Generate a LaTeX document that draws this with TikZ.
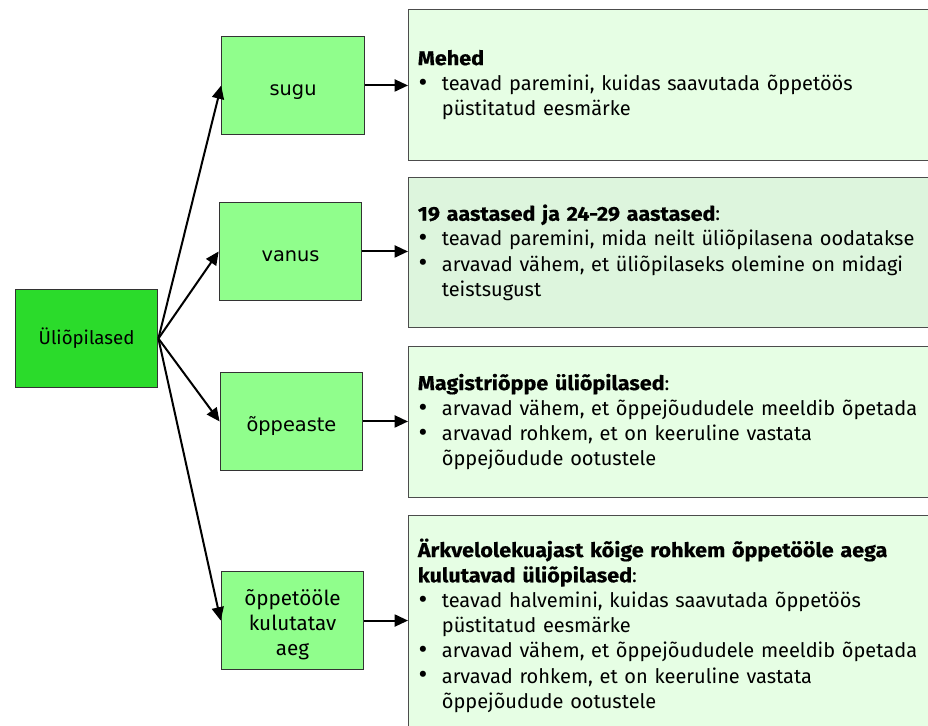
\documentclass[tikz,border=0pt]{standalone}
\usepackage{fontspec}
\usepackage{graphicx}
\setmainfont{Fira Sans}[BoldFeatures={FakeStretch=1.08,FakeBold=0.5}]
\newfontfamily\dejavu{DejaVu Sans}
\usetikzlibrary{arrows.meta}
\definecolor{rootgreen}{HTML}{2BDB2B}
\definecolor{midgreen}{HTML}{90FE8C}
\definecolor{paleA}{HTML}{E6FEE4}
\definecolor{paleB}{HTML}{DDF5DD}
\newcommand{\itm}{\hspace*{0.5pt}\makebox[17.5pt][l]{\raisebox{-0.6pt}{\scalebox{1.35}{\textbullet}}}}
\newcommand{\cnt}{\hspace*{18pt}}
% middle box text sits a little low in its box
\newcommand{\sunk}[1]{\raisebox{-4pt}[\height][\depth]{\begin{tabular}{@{}c@{}}#1\end{tabular}}}
\begin{document}
\begin{tikzpicture}[x=1pt, y=-1pt, thick,
  root/.style = {draw=black!80, fill=rootgreen, minimum width=107pt, minimum height=74pt, font=\fontsize{14}{17}\selectfont},
  mid/.style = {draw=black!80, fill=midgreen, minimum width=107pt, minimum height=73pt, font=\dejavu\fontsize{14.5}{18}\selectfont},
  info/.style = {draw=black!70, fill=paleA, anchor=north west, minimum width=400pt, text width=386pt, align=left, inner xsep=6.5pt, inner ysep=6pt, font=\fontsize{15}{18.9}\selectfont},
  arr/.style = {line width=1.5pt, -{Triangle[length=10pt, width=9pt]}}]
\useasboundingbox (0,0) rectangle (696,543.75);
\node[root] (students) at (64.9,253.9) {Üliõpilased};
\node[mid] (sex) at (219.8,64.1) {\sunk{sugu}};
\node[mid] (age) at (217.9,188.6) {\sunk{vanus}};
\node[mid] (level) at (218.6,316.1) {\sunk{õppeaste}};
\node[mid, font=\fontsize{15.5}{18.75}\selectfont] (time) at (219.4,465.4) {\sunk{õppetööle\\kulutatav\\aeg}};
\node[info, minimum height=113pt] (men) at (306,6.75) {\textbf{Mehed}\\
  \itm teavad paremini, kuidas saavutada õppetöös\\
  \cnt püstitatud eesmärke};
\node[info, fill=paleB, minimum height=112.5pt] (ages) at (306,132.75) {\textbf{19 aastased ja 24-29 aastased}:\\
  \itm teavad paremini, mida neilt üliõpilasena oodatakse\\
  \itm arvavad vähem, et üliõpilaseks olemine on midagi\\
  \cnt teistsugust};
\node[info, minimum height=113pt] (masters) at (306,259.5) {\textbf{Magistriõppe üliõpilased}:\\
  \itm arvavad vähem, et õppejõududele meeldib õpetada\\
  \itm arvavad rohkem, et on keeruline vastata\\
  \cnt õppejõudude ootustele};
\node[info, minimum height=165pt] (busy) at (306,386.25) {\textbf{Ärkvelolekuajast kõige rohkem õppetööle aega}\\
  \textbf{kulutavad üliõpilased}:\\
  \itm teavad halvemini, kuidas saavutada õppetöös\\
  \cnt püstitatud eesmärke\\
  \itm arvavad vähem, et õppejõududele meeldib õpetada\\
  \itm arvavad rohkem, et on keeruline vastata\\
  \cnt õppejõudude ootustele};
\path[arr]
(students.east) edge (sex.west) (students.east) edge (age.west)
(students.east) edge (level.west) (students.east) edge (time.west)
(sex.east) edge (sex.east -| men.west) (age.east) edge (age.east -| ages.west)
(level.east) edge (level.east -| masters.west) (time.east) edge (time.east -| busy.west);
\end{tikzpicture}
\end{document}
